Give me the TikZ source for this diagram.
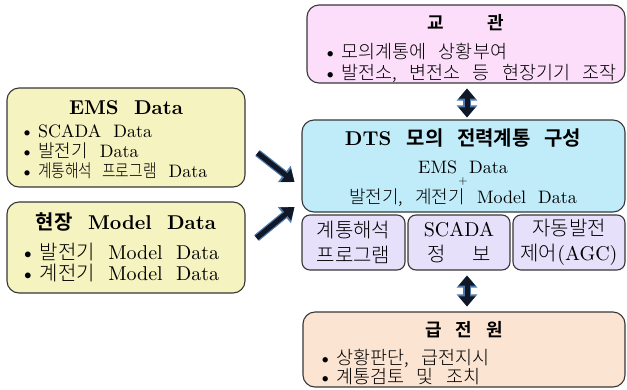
\documentclass[tikz,border=0pt]{standalone}
\usepackage{fontspec}
\setmainfont{lmroman10}[Extension=.otf, UprightFont=*-regular,
  BoldFont=*-bold, WordSpace=2]
\newfontfamily\kr{Noto Sans CJK KR}[UprightFont=* Light,
  BoldFont=* Bold, WordSpace=3]
\usepackage{tikz}
\usetikzlibrary{positioning,arrows.meta,calc}
\definecolor{edge}{RGB}{55,55,55}
\definecolor{databack}{RGB}{245,243,192}
\definecolor{tutorback}{RGB}{252,222,250}
\definecolor{dtsback}{RGB}{192,236,250}
\definecolor{toolback}{RGB}{230,224,250}
\definecolor{dispback}{RGB}{252,228,210}
\definecolor{arrowink}{RGB}{16,24,40}
\definecolor{glow}{RGB}{80,120,170}
\newcommand{\dotitem}{\textbullet\hspace{4pt}}

\begin{document}
\begin{tikzpicture}[x=1pt, y=-1pt,
  panel/.style={draw=edge, line width=1.1pt, rounded corners=12pt},
  tool/.style={draw=edge, line width=1.1pt, rounded corners=8pt,
    fill=toolback, minimum height=55pt, align=center, inner sep=0pt,
    font=\fontsize{20}{25}\selectfont},
  heading/.style={font=\fontsize{20}{24}\selectfont\bfseries},
  items/.style={align=left, inner sep=0pt, anchor=west},
  flow/.style={line width=5pt, draw=arrowink,
    -{Triangle[length=11pt,width=16pt]},
    preaction={draw=glow, line width=7.5pt,
      -{Triangle[length=13pt,width=20pt]}}},
  dflow/.style={line width=5pt, draw=arrowink,
    {Triangle[length=10pt,width=16pt]}-{Triangle[length=10pt,width=16pt]},
    preaction={draw=glow, line width=7.5pt,
      {Triangle[length=12pt,width=20pt]}-{Triangle[length=12pt,width=20pt]}}}
]
\useasboundingbox (0,0) rectangle (627,389);

% EMS data
\node[panel, fill=databack, minimum width=238pt, minimum height=99pt]
  (ems) at (126,137.5) {};
\node[heading] (emst) at (126,108) {EMS Data};
\node[items, font=\fontsize{18}{20}\selectfont] (emsl) at (20,152)
  {\dotitem SCADA Data\\ \dotitem {\kr 발전기} Data\\
   \dotitem {\kr\addfontfeatures{FakeStretch=0.82}계통해석 프로그램} Data};

% field model data
\node[panel, fill=databack, minimum width=238pt, minimum height=91pt]
  (field) at (126,247.5) {};
\node[heading] (fieldt) at (126,222) {{\kr 현장} Model Data};
\node[items, font=\fontsize{20}{21}\selectfont] (fieldl) at (20,262.5)
  {\dotitem {\kr 발전기} Model Data\\ \dotitem {\kr 계전기} Model Data};

% instructor
\node[panel, fill=tutorback, minimum width=318pt, minimum height=78pt]
  (tutor) at (466,44) {};
\node[heading, font=\fontsize{18}{20}\selectfont\bfseries] (tutort)
  at (466,23) {{\kr 교\hspace{44pt}관}};
\node[items, font=\fontsize{18.5}{21}\selectfont] (tutorl) at (323,62.5)
  {\dotitem {\kr 모의계통에 상황부여}\\
   \dotitem {\kr 발전소, 변전소 등 현장기기 조작}};

% DTS simulated power system
\node[panel, fill=dtsback, minimum width=323pt, minimum height=92pt]
  (dts) at (463.5,166) {};
\node[heading] (dtst) at (463,138) {DTS {\kr 모의 전력계통 구성}};
\node[font=\fontsize{18}{20}\selectfont] (dtsa) at (463,167) {EMS Data};
\node[font=\fontsize{12}{12}\selectfont] (dtsp) at (463,181) {+};
\node[font=\fontsize{18}{20}\selectfont] (dtsb) at (463,198)
  {{\kr 발전기, 계전기} Model Data};

% DTS modules
\node[tool, minimum width=103pt] (prog) at (353.5,242.5)
  {{\kr 계통해석}\\ {\kr 프로그램}};
\node[tool, minimum width=102pt] (scada) at (459,242.5)
  {SCADA\\ {\kr 정\hspace{26pt}보}};
\node[tool, minimum width=112pt] (agc) at (569,242.5)
  {{\kr 자동발전}\\ {\kr 제어}(AGC)};

% dispatcher
\node[panel, fill=dispback, minimum width=322pt, minimum height=75pt]
  (disp) at (464,349.5) {};
\node[heading, font=\fontsize{18}{20}\selectfont\bfseries] (dispt)
  at (464,330) {{\kr 급\hspace{14pt}전\hspace{14pt}원}};
\node[items, font=\fontsize{18.5}{19}\selectfont] (displ) at (318,367.5)
  {\dotitem {\kr 상황판단, 급전지시}\\ \dotitem {\kr 계통검토 및 조치}};

% data flow into the DTS
\draw[flow] ($(ems.east)+(12,15.5)$) -- ($(dts.west)+(-7,16)$);
\draw[flow] ($(field.east)+(11,-9.5)$) -- ($(dts.west)+(-7,41)$);
\draw[dflow] ($(tutor.south)+(1,5)$) -- ($(dts.north)+(3.5,-2)$);
\draw[dflow] ($(scada.south)+(8,5)$) -- ($(disp.north)+(3,-5)$);
\end{tikzpicture}
\end{document}
